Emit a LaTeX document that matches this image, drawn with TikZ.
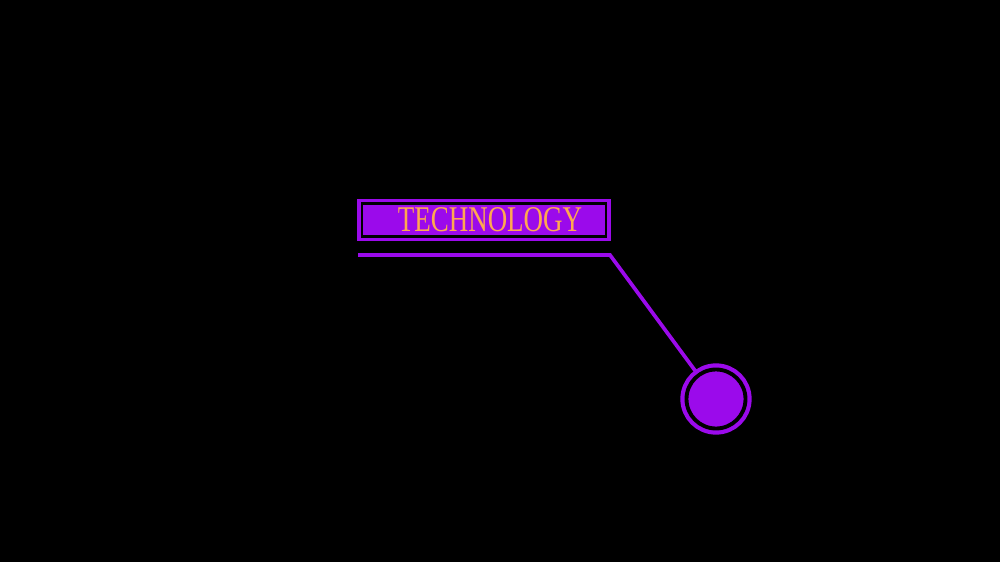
\documentclass[tikz, border = 0pt]{standalone}
\usepackage{fontspec}
\setmainfont{Liberation Serif}
\usetikzlibrary{positioning}

\definecolor{violet}{RGB}{155, 10, 235}
\definecolor{amber}{RGB}{255, 168, 80}

\tikzset{
	tag/.style = {draw = violet, double = black, double distance = 0.85 pt, line width = 1.0 pt, fill = violet, minimum width = 24.4 mm, minimum height = 3.25 mm, inner sep = 0 pt},
	dot/.style = {circle, draw = violet, double = black, double distance = 1.1 pt, line width = 1.2 pt, fill = violet, minimum size = 5.9 mm, inner sep = 0 pt},
	lead/.style = {draw = violet, line width = 1.05 pt}
}

\begin{document}
\begin{tikzpicture}[x = 0.1 mm, y = -0.1 mm]

	% Background
	
	\fill [black] (0, 0) rectangle (1000, 562);
	\useasboundingbox (0, 0) rectangle (1000, 562);
	
	% Label box
	
	\node [tag] (label) at (484, 220) {\hspace{1.2 mm}\scalebox{0.745}[1]{\fontsize{10.3}{12}\selectfont\color{amber}TECHNOLOGY}};
	
	% Marker
	
	\node [dot] (marker) at (716, 399) {};
	
	% Leader line
	
	\coordinate (start) at (358, 255);
	\coordinate (bend) at (610, 255);
	\draw [lead] (start) -- (bend) -- (marker);

\end{tikzpicture}
\end{document}
